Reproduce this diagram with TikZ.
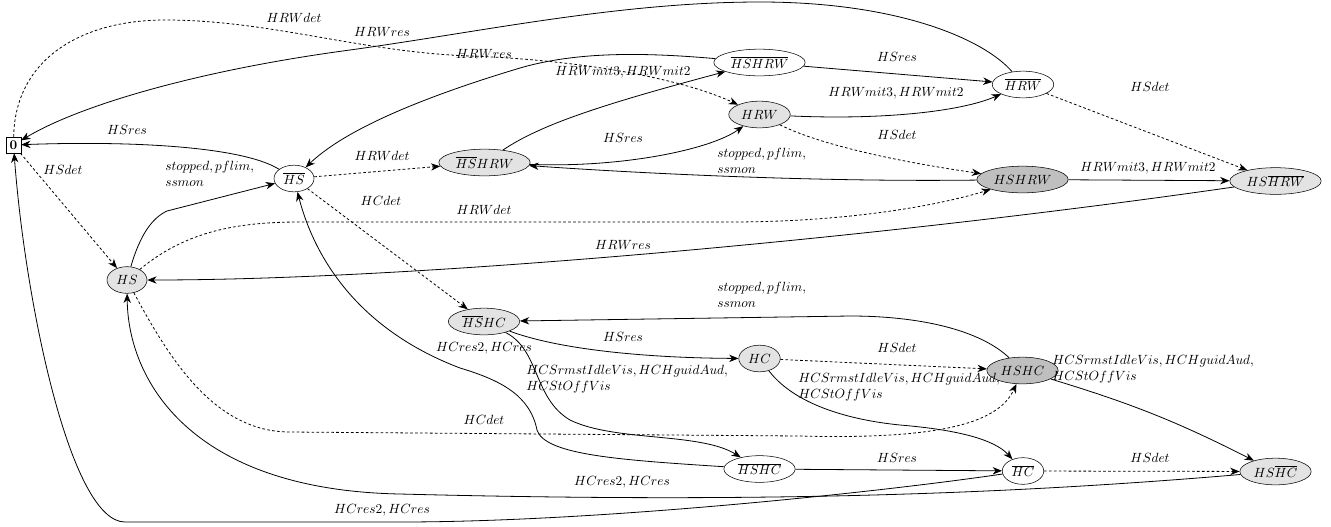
\documentclass[tikz,border=0pt]{standalone}
\usetikzlibrary{shapes.geometric,arrows.meta}
\definecolor{lightfill}{gray}{0.89}
\definecolor{darkfill}{gray}{0.75}
\tikzset{
  state/.style={ellipse,draw,inner xsep=2.5pt,inner ysep=1pt,minimum width=30pt,minimum height=20pt},
  stlight/.style={state,fill=lightfill},
  stdark/.style={state,fill=darkfill},
  initstate/.style={rectangle,draw,inner sep=1pt,minimum width=11pt,minimum height=12pt},
  trlabel/.style={inner sep=0pt},
  trlabels/.style={inner sep=0pt,align=left,anchor=north west},
  detedge/.style={dash pattern=on 2pt off 1.7pt},
}
\begin{document}
\begin{tikzpicture}[x=0.75pt,y=-0.75pt,>={Stealth[length=7pt,width=5.5pt,inset=2.2pt]}]
      \useasboundingbox (0,0) rectangle (1331,526);
      \draw
        (13.5,145) node[initstate] (0){$\mathbf{0}$}
        (127,280) node[stlight] (HS){$HS$}
        (294,178.5) node[state] (HSbar){$\overline{HS}$}
        (484.5,162.5) node[stlight] (HSbarHRW){$\overline{HS}HRW$}
        (759.5,62.5) node[state] (HSbarHRWbar){$\overline{HSHRW}$}
        (759.5,114.5) node[stlight] (HRW){$HRW$}
        (1023,84.5) node[state] (HRWbar){$\overline{HRW}$}
        (1022.5,179.5) node[stdark] (HSHRW){$HSHRW$}
        (1275.5,181) node[stlight] (HSHRWbar){$HS\overline{HRW}$}
        (484,321.5) node[stlight] (HSbarHC){$\overline{HS}HC$}
        (759.5,358.5) node[stlight] (HC){$HC$}
        (1022.5,370.5) node[stdark] (HSHC){$HSHC$}
        (759.5,469) node[state] (HSbarHCbar){$\overline{HSHC}$}
        (1023,471) node[state] (HCbar){$\overline{HC}$}
        (1275.5,471.5) node[stlight] (HSHCbar){$HS\overline{HC}$};
      \draw
        (63,170) node[trlabel] (l0HS){$HSdet$}
        (127,130) node[trlabel] (lHSbar0){$HSres$}
        (165,161) node[trlabels] (lHSHSbar){$stopped, pflim,$\\$ssmon$}
        (382,156) node[trlabel] (lHSbarHSbarHRW){$HRWdet$}
        (381,201) node[trlabel] (lHSbarHSbarHC){$HCdet$}
        (484,210) node[trlabel] (lHSHSHRW){$HRWdet$}
        (623,245) node[trlabel] (lHSHRWbarHS){$HRWres$}
        (484,420) node[trlabel] (lHSHSHC){$HCdet$}
        (622,482) node[trlabel] (lHSHCbarHS){$HCres2, HCres$}
        (382,510) node[trlabel] (lHCbar0){$HCres2, HCres$}
        (484,348) node[trlabel] (lHSbarHCbarHSbar){$HCres2, HCres$}
        (294,18) node[trlabel] (l0HRW){$HRWdet$}
        (382,32) node[trlabel] (lHRWbar0){$HRWres$}
        (484,54) node[trlabel] (lHSbarHRWbarHSbar){$HRWres$}
        (623,72) node[trlabel] (lHSbarHRWHSbarHRWbar){$HRWmit3, HRWmit2$}
        (623,138) node[trlabel] (lHSbarHRWHRW){$HSres$}
        (717,148) node[trlabels] (lHSHRWHSbarHRW){$stopped, pflim,$\\$ssmon$}
        (897,135) node[trlabel] (lHRWHSHRW){$HSdet$}
        (896,93) node[trlabel] (lHRWHRWbar){$HRWmit3, HRWmit2$}
        (897,57) node[trlabel] (lHSbarHRWbarHRWbar){$HSres$}
        (1150,87) node[trlabel] (lHRWbarHSHRWbar){$HSdet$}
        (1148,168) node[trlabel] (lHSHRWHSHRWbar){$HRWmit3, HRWmit2$}
        (717,282) node[trlabels] (lHSHCHSbarHC){$stopped, pflim,$\\$ssmon$}
        (623,337) node[trlabel] (lHSbarHCHC){$HSres$}
        (526,365) node[trlabels] (lHSbarHCHSbarHCbar){$HCSrmstIdleVis, HCHguidAud,$\\$HCStOffVis$}
        (897,348) node[trlabel] (lHCHSHC){$HSdet$}
        (798,373) node[trlabels] (lHCHCbar){$HCSrmstIdleVis, HCHguidAud,$\\$HCStOffVis$}
        (1052,355) node[trlabels] (lHSHCHSHCbar){$HCSrmstIdleVis, HCHguidAud,$\\$HCStOffVis$}
        (897,458) node[trlabel] (lHSbarHCbarHCbar){$HSres$}
        (1150,458) node[trlabel] (lHCbarHSHCbar){$HSdet$};
      \begin{scope}[->,semithick]
        \draw[detedge] (0) to (HS);
        \draw (HSbar) .. controls (240,145) and (120,141) .. (0);
        \draw (HS) .. controls (140,235) and (152,218) .. (167,211) -- (HSbar);
        \draw[detedge] (HSbar) to (HSbarHRW);
        \draw[detedge] (HSbar) to (HSbarHC);
        \draw[detedge] (HS) .. controls (185,232) and (235,222) .. (300,222) -- (730,222) .. controls (850,222) and (940,205) .. (HSHRW);
        \draw (HSHRWbar) .. controls (880,238) and (420,280) .. (HS);
        \draw[detedge] (HS) .. controls (170,360) and (215,432) .. (290,432) -- (800,436) .. controls (950,440) and (1000,420) .. (HSHC);
        \draw (HSHCbar) .. controls (1000,495) and (750,503) .. (400,494) .. controls (190,490) and (128,380) .. (HS);
        \draw (HCbar) .. controls (880,492) and (600,522) .. (400,522) -- (125,522) .. controls (70,522) and (25,300) .. (0);
        \draw (HSbarHCbar) .. controls (620,460) and (545,455) .. (537,430) .. controls (530,395) and (500,380) .. (460,368) .. controls (360,330) and (315,260) .. (HSbar);
        \draw (HSbarHC) .. controls (560,350) and (650,358) .. (HC);
        \draw (HSbarHC) .. controls (540,350) and (533,398) .. (570,420) .. controls (615,442) and (700,432) .. (HSbarHCbar);
        \draw[detedge] (HC) to (HSHC);
        \draw (HC) .. controls (795,405) and (850,420) .. (900,425) .. controls (960,430) and (995,440) .. (HCbar);
        \draw (HSHC) .. controls (980,330) and (920,316) .. (850,316) -- (HSbarHC);
        \draw (HSHC) to[bend left=5] (HSHCbar);
        \draw (HSbarHCbar) to (HCbar);
        \draw[detedge] (HCbar) to (HSHCbar);
        \draw[detedge] (0) .. controls (15,60) and (80,20) .. (165,20) .. controls (270,20) and (360,52) .. (470,56) .. controls (580,60) and (680,78) .. (HRW);
        \draw (HRWbar) .. controls (985,40) and (900,2) .. (760,2) .. controls (620,2) and (480,32) .. (350,50) .. controls (200,70) and (80,105) .. (0);
        \draw (HSbarHRWbar) .. controls (640,52) and (575,52) .. (520,68) .. controls (440,92) and (350,125) .. (HSbar);
        \draw (HSbarHRW) .. controls (540,125) and (600,105) .. (HSbarHRWbar);
        \draw (HSbarHRW) .. controls (620,168) and (710,150) .. (HRW);
        \draw (HSHRW) .. controls (820,182) and (650,174) .. (HSbarHRW);
        \draw[detedge] (HRW) .. controls (820,145) and (900,162) .. (HSHRW);
        \draw (HRW) .. controls (880,120) and (960,112) .. (HRWbar);
        \draw (HSbarHRWbar) to (HRWbar);
        \draw[detedge] (HRWbar) to (HSHRWbar);
        \draw (HSHRW) to (HSHRWbar);
      \end{scope}
    \end{tikzpicture}
\end{document}
